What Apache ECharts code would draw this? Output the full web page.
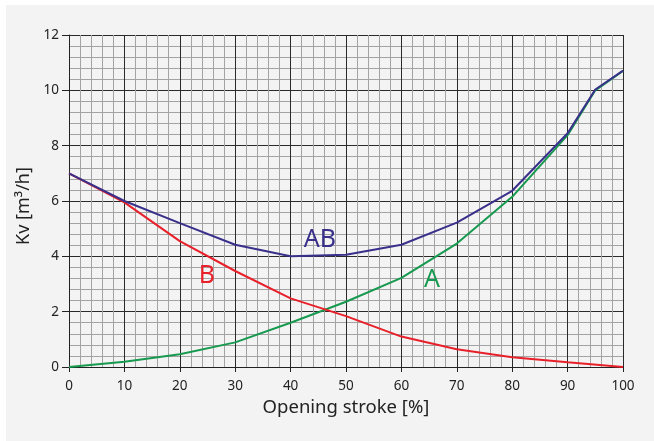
<!DOCTYPE html>
<html><head><meta charset="utf-8">
<script src="https://cdn.jsdelivr.net/npm/echarts@6/dist/echarts.min.js"></script>
<style>html,body{margin:0;padding:0;background:#fff}#c{width:654px;height:441px}</style>
</head><body><div id="c"></div>
<script>
// Opening stroke [%] and Kv values [m3/h]
const strokeAB = [0, 10, 20, 30, 40, 50, 60, 70, 80, 90, 95, 100];
const kvAB     = [7.0, 6.0, 5.2, 4.42, 4.0, 4.06, 4.42, 5.22, 6.37, 8.45, 10.03, 10.71];
const strokeA  = [0, 10, 20, 30, 40, 50, 60, 70, 80, 90, 95, 100];
const kvA      = [0.0, 0.19, 0.46, 0.89, 1.6, 2.36, 3.22, 4.46, 6.15, 8.38, 10.0, 10.7];
const strokeB  = [0, 10, 20, 30, 40, 50, 60, 70, 80, 90, 100];
const kvB      = [7.0, 5.95, 4.55, 3.47, 2.48, 1.84, 1.1, 0.64, 0.35, 0.17, 0.0];
const seriesNames = ['A', 'B', 'AB'];

const pair = (xs, ys) => xs.map((x, i) => [x, ys[i]]);
const font = '"Noto Sans", sans-serif';
const cols = { A: '#17994f', B: '#e8202a', AB: '#38308a' };

function lineSeries(name, data, labelCoord) {
  return {
    type: 'line', name, data, symbol: 'none', smooth: false,
    lineStyle: { color: cols[name], width: 2 },
    itemStyle: { color: cols[name] },
    z: 3,
    markPoint: {
      symbol: 'circle', symbolSize: 1, itemStyle: { color: 'rgba(0,0,0,0)' },
      data: [{ coord: labelCoord, value: name }],
      label: { show: true, position: 'inside', formatter: name, color: cols[name], fontSize: 25, fontFamily: font }
    }
  };
}

const chart = echarts.init(document.getElementById('c'), null, { renderer: 'canvas' });
chart.setOption({
  backgroundColor: '#ffffff',
  animation: false,
  graphic: [{ type: 'rect', z: -10, shape: { x: 6, y: 5, width: 648, height: 436 }, style: { fill: '#f3f3f3' }, silent: true }],
  grid: { left: 69, right: 31, top: 35, bottom: 74, show: false },
  xAxis: {
    type: 'value', min: 0, max: 100, interval: 10,
    name: 'Opening stroke [%]', nameLocation: 'middle', nameGap: 31,
    nameTextStyle: { fontSize: 18.5, color: '#222', fontFamily: font },
    axisLine: { show: true, lineStyle: { color: '#222', width: 1 } },
    axisTick: { show: true, length: 5, lineStyle: { color: '#222' } },
    axisLabel: { fontSize: 13.5, color: '#222', fontFamily: font, margin: 12 },
    splitLine: { show: true, lineStyle: { color: '#2a2a2a', width: 1 } },
    minorTick: { show: false, splitNumber: 5 },
    minorSplitLine: { show: true, lineStyle: { color: '#a3a3a3', width: 1 } }
  },
  yAxis: {
    type: 'value', min: 0, max: 12, interval: 2,
    name: 'Kv [m³/h]', nameLocation: 'middle', nameGap: 27,
    nameTextStyle: { fontSize: 18, color: '#222', fontFamily: font, padding: [0, 10, 0, 0] },
    axisLine: { show: true, lineStyle: { color: '#222', width: 1 } },
    axisTick: { show: true, length: 7, lineStyle: { color: '#222' } },
    axisLabel: { fontSize: 13.5, color: '#222', fontFamily: font, margin: 10 },
    splitLine: { show: true, lineStyle: { color: '#2a2a2a', width: 1 } },
    minorTick: { show: false, splitNumber: 5 },
    minorSplitLine: { show: true, lineStyle: { color: '#a3a3a3', width: 1 } }
  },
  series: [
    lineSeries(seriesNames[0], pair(strokeA, kvA), [65.5, 3.15]),
    lineSeries(seriesNames[1], pair(strokeB, kvB), [24.9, 3.28]),
    lineSeries(seriesNames[2], pair(strokeAB, kvAB), [45.3, 4.6])
  ]
});
</script></body></html>
